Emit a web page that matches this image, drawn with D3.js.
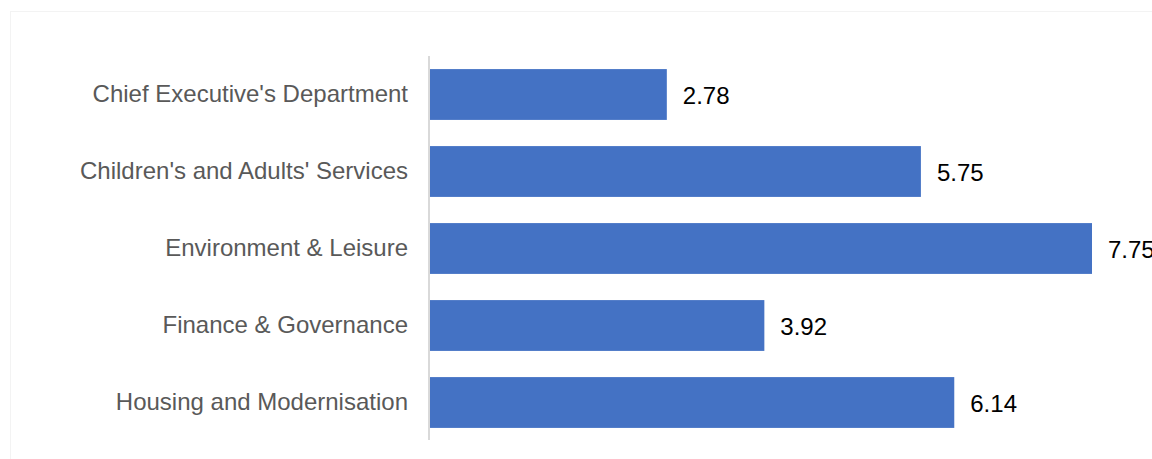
<!DOCTYPE html>
<html><head><meta charset="utf-8">
<script src="https://cdn.jsdelivr.net/npm/d3@7"></script>
<style>html,body{margin:0;padding:0;background:#fff;overflow:hidden;}svg{display:block;}</style>
</head><body>
<svg id="chart" width="1152" height="459"></svg>
<script>
const categories = ["Chief Executive's Department","Children's and Adults' Services","Environment & Leisure","Finance & Governance","Housing and Modernisation"];
const values = [2.78, 5.75, 7.75, 3.92, 6.14];
const labels = ["2.78","5.75","7.75","3.92","6.14"];

const svg = d3.select("#chart");
svg.append("rect").attr("x",10.5).attr("y",11.5).attr("width",1150).attr("height",460)
  .attr("fill","#fff").attr("stroke","#f3f3f3").attr("stroke-width",1);

const x0 = 429;
const x = d3.scaleLinear().domain([0, 7.75]).range([x0, 1092]);
const y = d3.scaleBand().domain(categories).range([56, 441]).paddingInner(0.34).paddingOuter(0.17);

svg.selectAll("rect.bar").data(values).enter().append("rect")
  .attr("class","bar")
  .attr("x", x(0)).attr("y",(d,i)=>y(categories[i]))
  .attr("width", d=>x(d)-x(0)).attr("height", y.bandwidth())
  .attr("fill","#4472c4");

const axis = d3.axisLeft(y).tickSize(0).tickPadding(21);
const g = svg.append("g").attr("transform",`translate(${x0},0)`).call(axis);
g.select(".domain").attr("stroke","#d9d9d9").attr("stroke-width",2).attr("d","M0,56V440");
g.selectAll("text").attr("font-family","Liberation Sans, Arial, sans-serif").attr("font-size",24).attr("fill","#595959");

svg.selectAll("text.val").data(values).enter().append("text")
  .attr("class","val")
  .attr("x", d=>x(d)+16).attr("y",(d,i)=>y(categories[i])+y.bandwidth()/2+1)
  .attr("dy","0.35em")
  .attr("font-family","Liberation Sans, Arial, sans-serif").attr("font-size",24).attr("fill","#000")
  .text((d,i)=>labels[i]);
</script>
</body></html>
